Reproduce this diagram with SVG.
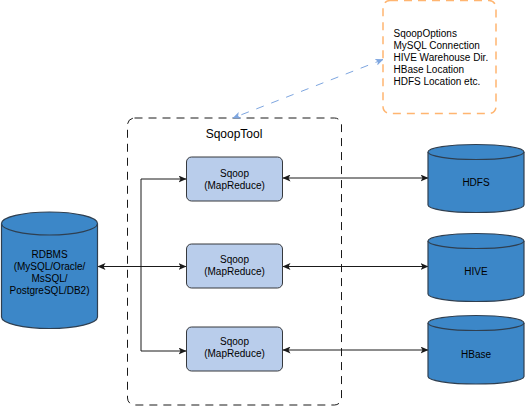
<svg xmlns="http://www.w3.org/2000/svg" width="525" height="406" viewBox="0 0 525 406">
<style>
text{font-family:"Liberation Sans",Arial,sans-serif;font-size:10px;fill:#000;text-anchor:middle}
.cyl{fill:#3c87c8;stroke:#2f3f50;stroke-width:1.2}
.sq{fill:#b9cdeb;stroke:#36393d;stroke-width:1}
.c{fill:none;stroke:#1a1a1a;stroke-width:1}
</style>
<defs>
<marker id="a" viewBox="0 0 8 7" refX="7.500" refY="3.500" markerWidth="8" markerHeight="7" markerUnits="userSpaceOnUse" orient="auto-start-reverse"><path d="M0 0L8 3.500L0 7L2 3.500Z" fill="#1a1a1a"/></marker>
<marker id="b" viewBox="0 0 8 7" refX="7.500" refY="3.500" markerWidth="8" markerHeight="7" markerUnits="userSpaceOnUse" orient="auto-start-reverse"><path d="M0 0L8 3.500L0 7L2 3.500Z" fill="#7ea6e0"/></marker>
</defs>
<g id="sqooptool"><rect x="127.500" y="118" width="214" height="287" rx="7" fill="none" stroke="#1a1a1a" stroke-dasharray="8 6"/><text x="234" y="138" style="font-size:12px">SqoopTool</text></g>
<g id="connectors">
<path class="c" d="M186 179H141V351H186" marker-start="url(#a)" marker-end="url(#a)"/>
<path class="c" d="M98 266.500H186" marker-start="url(#a)" marker-end="url(#a)"/>
<path class="c" d="M283 178H428" marker-start="url(#a)" marker-end="url(#a)"/>
<path class="c" d="M283 266.500H428" marker-start="url(#a)" marker-end="url(#a)"/>
<path class="c" d="M283 350H428" marker-start="url(#a)" marker-end="url(#a)"/>
<path d="M383 59.500L233 118" fill="none" stroke="#7ea6e0" stroke-dasharray="8 8" marker-start="url(#b)" marker-end="url(#b)"/>
</g>
<g id="options"><rect x="383" y="0.500" width="113" height="113" rx="7" fill="#fff" stroke="#ffb570" stroke-width="1.500" stroke-dasharray="8 6"/>
<text x="393.500" y="37" style="text-anchor:start">SqoopOptions</text><text x="393.500" y="49" style="text-anchor:start">MySQL Connection</text><text x="393.500" y="61" style="text-anchor:start">HIVE Warehouse Dir.</text><text x="393.500" y="73" style="text-anchor:start">HBase Location</text><text x="393.500" y="85" style="text-anchor:start">HDFS Location etc.</text></g>
<g id="rdbms"><path class="cyl" d="M1.500 223.500A48 11.500 0 0 1 97.500 223.500V317A48 11.500 0 0 1 1.500 317Z"/><path class="cyl" d="M1.500 223.500A48 11.500 0 0 0 97.500 223.500" fill="none"/>
<text x="49.500" y="258">RDBMS</text><text x="49.500" y="270">(MySQL/Oracle/</text><text x="49.500" y="282">MsSQL/</text><text x="49.500" y="294">PostgreSQL/DB2)</text></g>
<g id="sqoop1"><rect class="sq" x="186.500" y="157" width="96" height="44" rx="5"/><text x="234.500" y="177">Sqoop</text><text x="234.500" y="189">(MapReduce)</text></g>
<g id="sqoop2"><rect class="sq" x="186.500" y="244" width="96" height="44" rx="5"/><text x="234.500" y="263">Sqoop</text><text x="234.500" y="275">(MapReduce)</text></g>
<g id="sqoop3"><rect class="sq" x="186.500" y="327" width="96" height="44" rx="5"/><text x="234.500" y="345">Sqoop</text><text x="234.500" y="357">(MapReduce)</text></g>
<g id="hdfs"><path class="cyl" d="M428 152A48 7.500 0 0 1 524 152V205A48 7.500 0 0 1 428 205Z"/><path class="cyl" d="M428 152A48 7.500 0 0 0 524 152" fill="none"/><text x="476" y="186">HDFS</text></g>
<g id="hive"><path class="cyl" d="M428 241A48 7.500 0 0 1 524 241V294A48 7.500 0 0 1 428 294Z"/><path class="cyl" d="M428 241A48 7.500 0 0 0 524 241" fill="none"/><text x="476" y="275">HIVE</text></g>
<g id="hbase"><path class="cyl" d="M428 323A48 7.500 0 0 1 524 323V376.500A48 7.500 0 0 1 428 376.500Z"/><path class="cyl" d="M428 323A48 7.500 0 0 0 524 323" fill="none"/><text x="476" y="358">HBase</text></g>
</svg>
